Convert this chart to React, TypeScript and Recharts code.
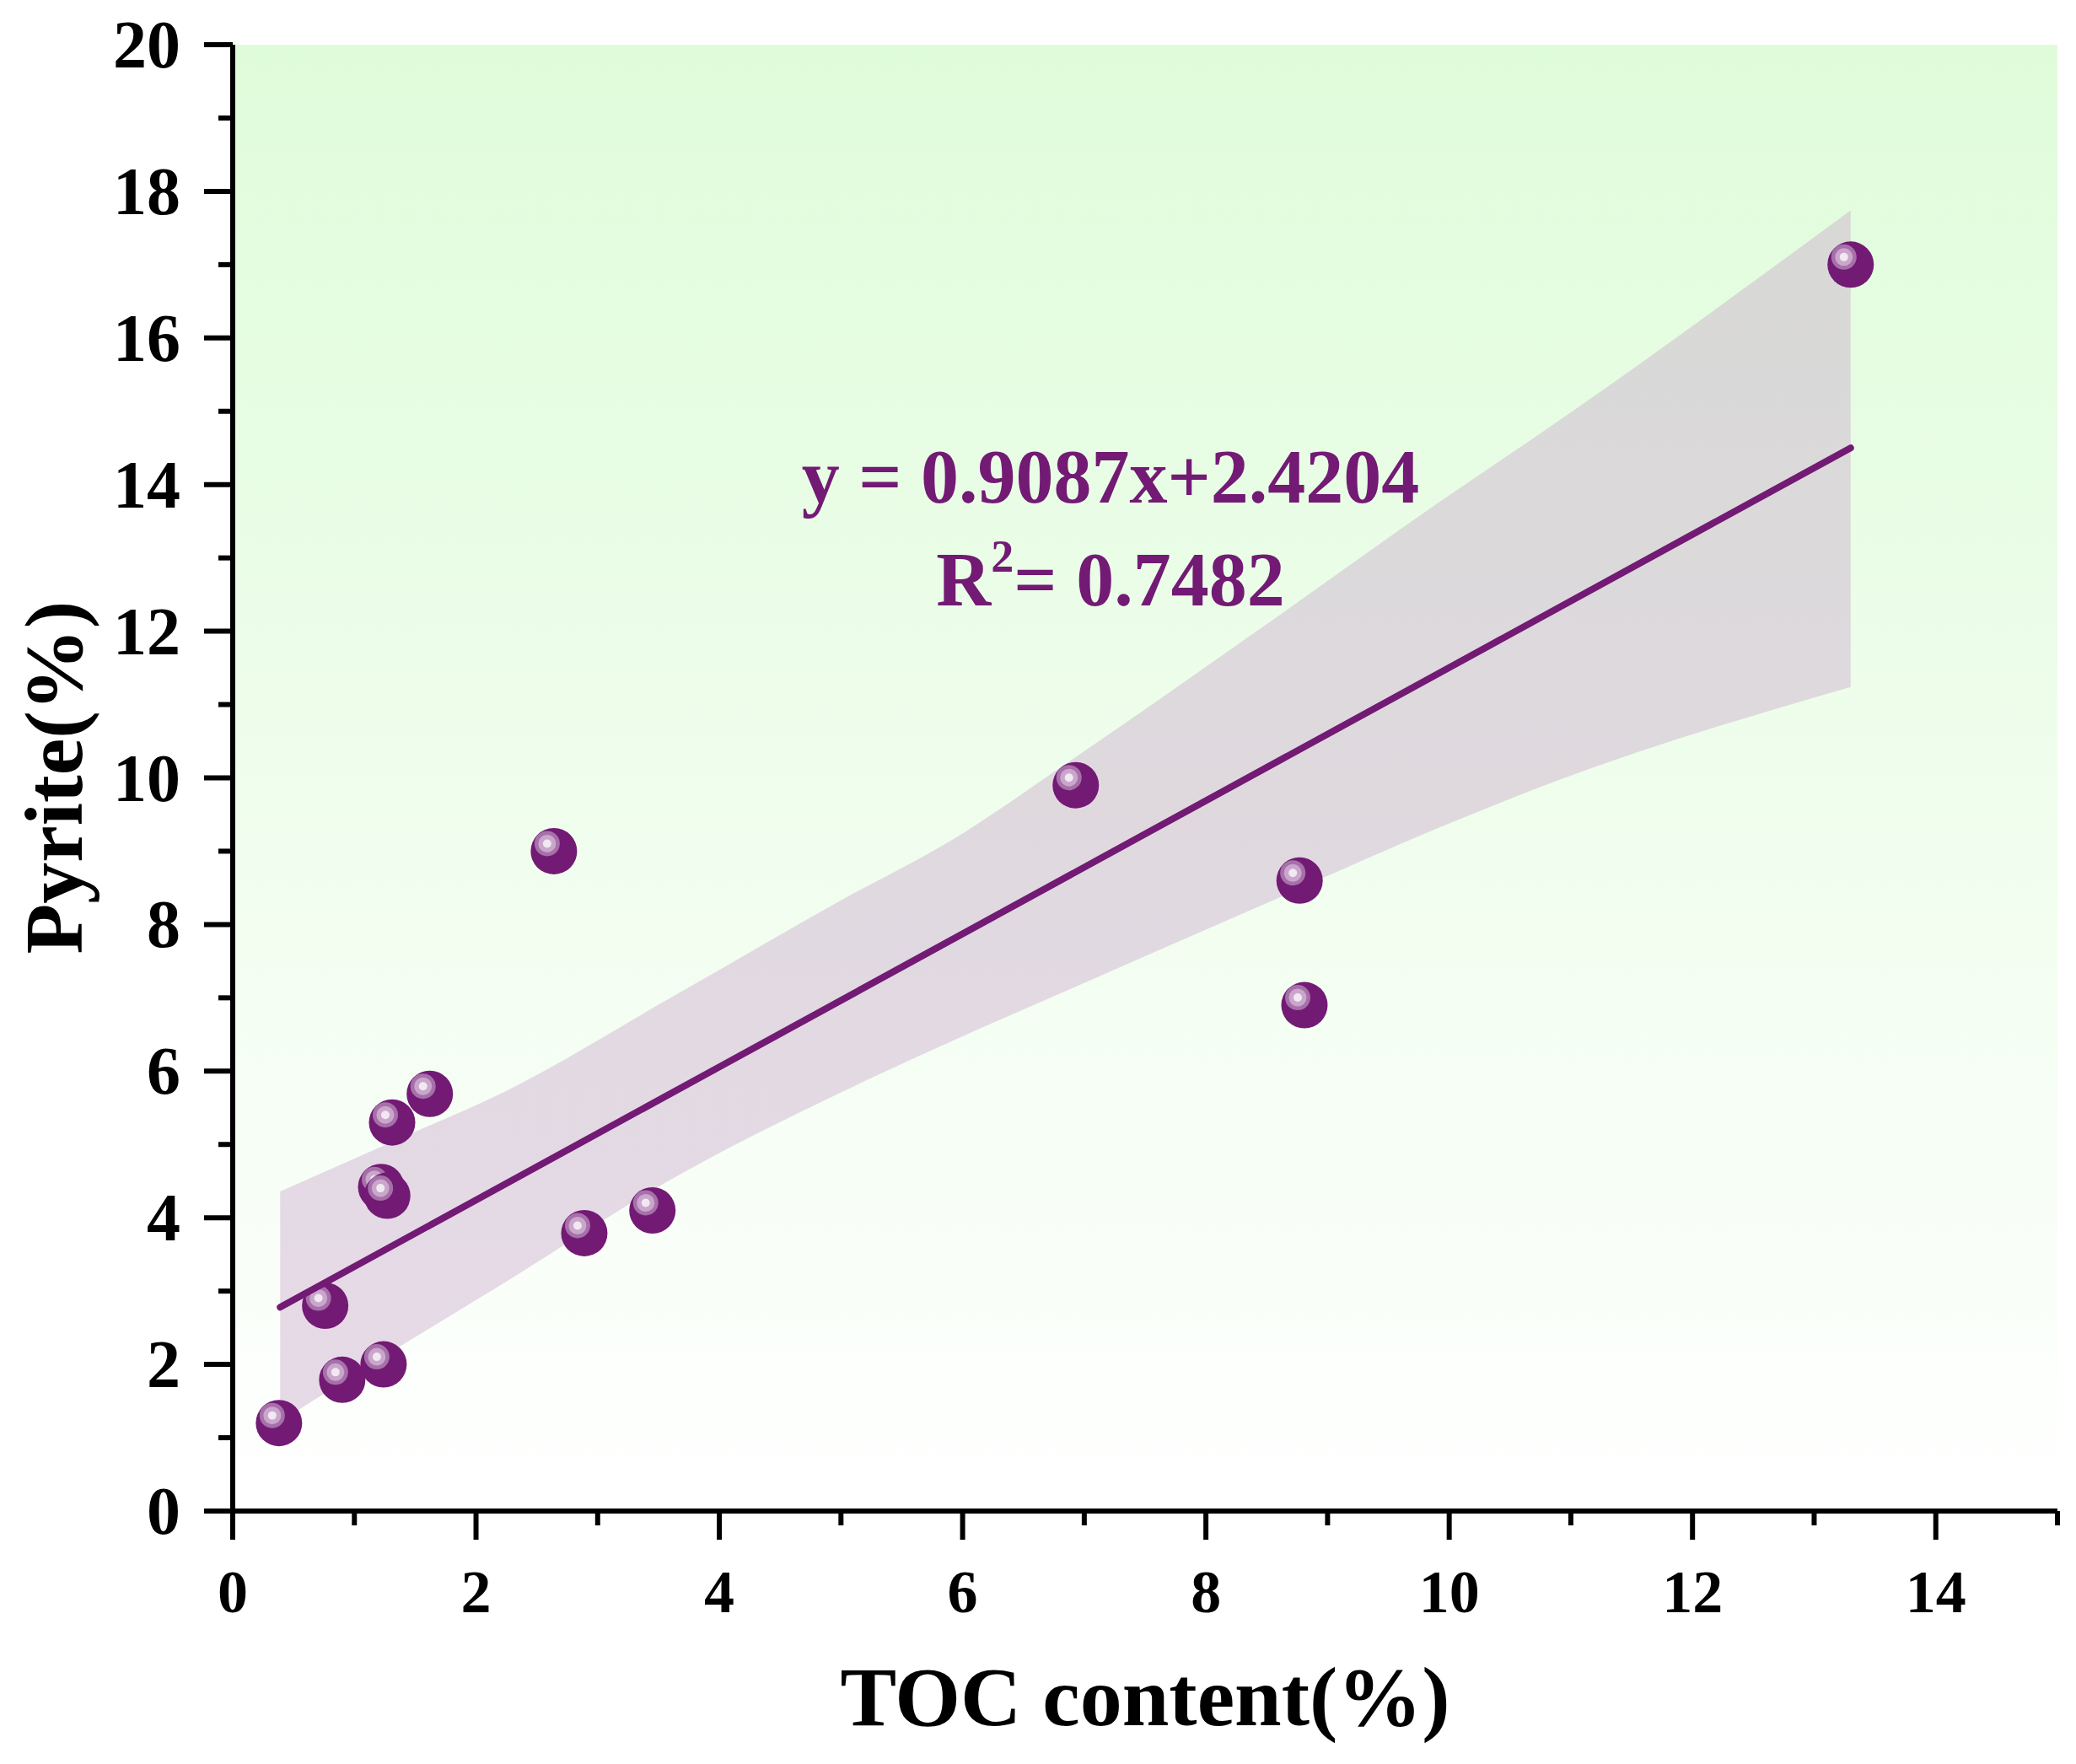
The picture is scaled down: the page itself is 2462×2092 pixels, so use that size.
import { Area, CartesianGrid, ComposedChart, Line, Scatter, XAxis, YAxis } from "recharts";

const FONT = '"Liberation Serif", "Times New Roman", serif';
const PURPLE = "#721a74";

// measured samples
const tocValues = [0.38, 0.9, 1.24, 0.76, 1.22, 1.27, 1.31, 1.62, 2.89, 3.45, 2.64, 6.93, 8.77, 8.81, 13.3];
const pyriteValues = [1.2, 1.79, 2.0, 2.8, 4.42, 4.3, 5.3, 5.69, 3.79, 4.1, 9.0, 9.9, 8.6, 6.9, 17.0];

// fitted line end points
const fitX = [0.39, 13.3];
const fitY = [2.78, 14.5];

// confidence band edges
const bandX = [0.39, 1.4, 2.2, 3.6, 5.0, 5.9, 6.9, 8.4, 9.9, 10.9, 13.3];
const bandLow = [1.22, 2.27, 3.08, 4.52, 5.71, 6.4, 7.13, 8.22, 9.31, 9.97, 11.24];
const bandHigh = [4.36, 5.1, 5.69, 7.0, 8.33, 9.14, 10.25, 11.98, 13.74, 14.87, 17.74];

const xTicks = [0, 1, 2, 3, 4, 5, 6, 7, 8, 9, 10, 11, 12, 13, 14, 15];
const yTicks = [0, 1, 2, 3, 4, 5, 6, 7, 8, 9, 10, 11, 12, 13, 14, 15, 16, 17, 18, 19, 20];

const points = tocValues.map((x, i) => ({ x, y: pyriteValues[i] }));
const fitData = fitX.map((x, i) => ({ x, y: fitY[i] }));
const bandData = bandX.map((x, i) => ({ x, range: [bandLow[i], bandHigh[i]] }));

function XTick(props: any) {
  const { x, y, payload } = props;
  const v = payload.value;
  const major = v % 2 === 0;
  return (
    <g>
      <line x1={x} x2={x} y1={y} y2={y + (major ? 34 : 17)} stroke="#000" strokeWidth={6} />
      {major && (
        <text x={x} y={y + 120} textAnchor="middle" fontFamily={FONT} fontWeight="bold" fontSize={72} fill="#000">
          {v}
        </text>
      )}
    </g>
  );
}

function YTick(props: any) {
  const { x, y, payload } = props;
  const v = payload.value;
  const major = v % 2 === 0;
  return (
    <g>
      <line x1={x} x2={x - (major ? 34 : 17)} y1={y} y2={y} stroke="#000" strokeWidth={6} />
      {major && (
        <text x={x - 62} y={y + 27} textAnchor="end" fontFamily={FONT} fontWeight="bold" fontSize={80} fill="#000">
          {v}
        </text>
      )}
    </g>
  );
}

function Sphere(props: any) {
  const { cx, cy } = props;
  if (cx == null || cy == null) return null;
  return (
    <g>
      <circle cx={cx} cy={cy} r={27.5} fill={PURPLE} />
      <circle cx={cx - 8} cy={cy - 9} r={15} fill="#a670a9" />
      <circle cx={cx - 8} cy={cy - 9} r={10.5} fill="#caa6cc" />
      <circle cx={cx - 8} cy={cy - 9} r={5} fill="#f2e8f2" />
    </g>
  );
}

export default function App() {
  return (
    <div style={{ position: "absolute", left: 0, top: 0, width: 2462, height: 2092, background: "#fff" }}>
      <ComposedChart width={2462} height={2092} margin={{ top: 53, right: 22, bottom: 0, left: 0 }}>
        <defs>
          <linearGradient id="plotBg" x1="0" y1="0" x2="0" y2="1">
            <stop offset="0%" stopColor="#dffcda" />
            <stop offset="100%" stopColor="#ffffff" />
          </linearGradient>
        </defs>
        <CartesianGrid horizontal={false} vertical={false} fill="url(#plotBg)" />
        <XAxis
          dataKey="x"
          type="number"
          domain={[0, 15]}
          ticks={xTicks}
          interval={0}
          allowDataOverflow
          height={300}
          tickSize={0}
          tickMargin={0}
          tickLine={false}
          axisLine={{ stroke: "#000", strokeWidth: 6 }}
          tick={<XTick />}
        />
        <XAxis
          xAxisId="top"
          orientation="top"
          type="number"
          domain={[0, 15]}
          height={0}
          tick={false}
          tickLine={false}
          axisLine={{ stroke: "#000", strokeWidth: 6 }}
        />
        <YAxis
          type="number"
          domain={[0, 20]}
          ticks={yTicks}
          interval={0}
          allowDataOverflow
          width={276}
          tickSize={0}
          tickMargin={0}
          tickLine={false}
          axisLine={{ stroke: "#000", strokeWidth: 6 }}
          tick={<YTick />}
        />
        <YAxis
          yAxisId="right"
          orientation="right"
          type="number"
          domain={[0, 20]}
          width={0}
          tick={false}
          tickLine={false}
          axisLine={{ stroke: "#000", strokeWidth: 6 }}
        />
        <Area
          data={bandData}
          dataKey="range"
          type="monotone"
          stroke="none"
          fill="#c8a7ca"
          fillOpacity={0.42}
          dot={false}
          activeDot={false}
          isAnimationActive={false}
        />
        <Scatter data={points} dataKey="y" shape={<Sphere />} isAnimationActive={false} />
        <Line
          data={fitData}
          dataKey="y"
          type="linear"
          stroke={PURPLE}
          strokeWidth={8}
          strokeLinecap="round"
          dot={false}
          activeDot={false}
          isAnimationActive={false}
          zIndex={700}
        />
      </ComposedChart>
      <svg
        width={2462}
        height={2092}
        style={{ position: "absolute", left: 0, top: 0, pointerEvents: "none" }}
      >
        <text x={1317} y={596} textAnchor="middle" fontFamily={FONT} fontWeight="bold" fontSize={90} fill={PURPLE}>
          y = 0.9087x+2.4204
        </text>
        <text x={1317} y={718} textAnchor="middle" fontFamily={FONT} fontWeight="bold" fontSize={90} fill={PURPLE}>
          R
          <tspan fontSize={54} dy={-40}>2</tspan>
          <tspan dy={40}>= 0.7482</tspan>
        </text>
        <text x={1358} y={2046} textAnchor="middle" fontFamily={FONT} fontWeight="bold" fontSize={100} fill="#000">
          TOC content(%)
        </text>
        <text
          x={0}
          y={0}
          transform="translate(97 922) rotate(-90)"
          textAnchor="middle"
          fontFamily={FONT}
          fontWeight="bold"
          fontSize={98}
          fill="#000"
        >
          Pyrite(%)
        </text>
      </svg>
    </div>
  );
}
